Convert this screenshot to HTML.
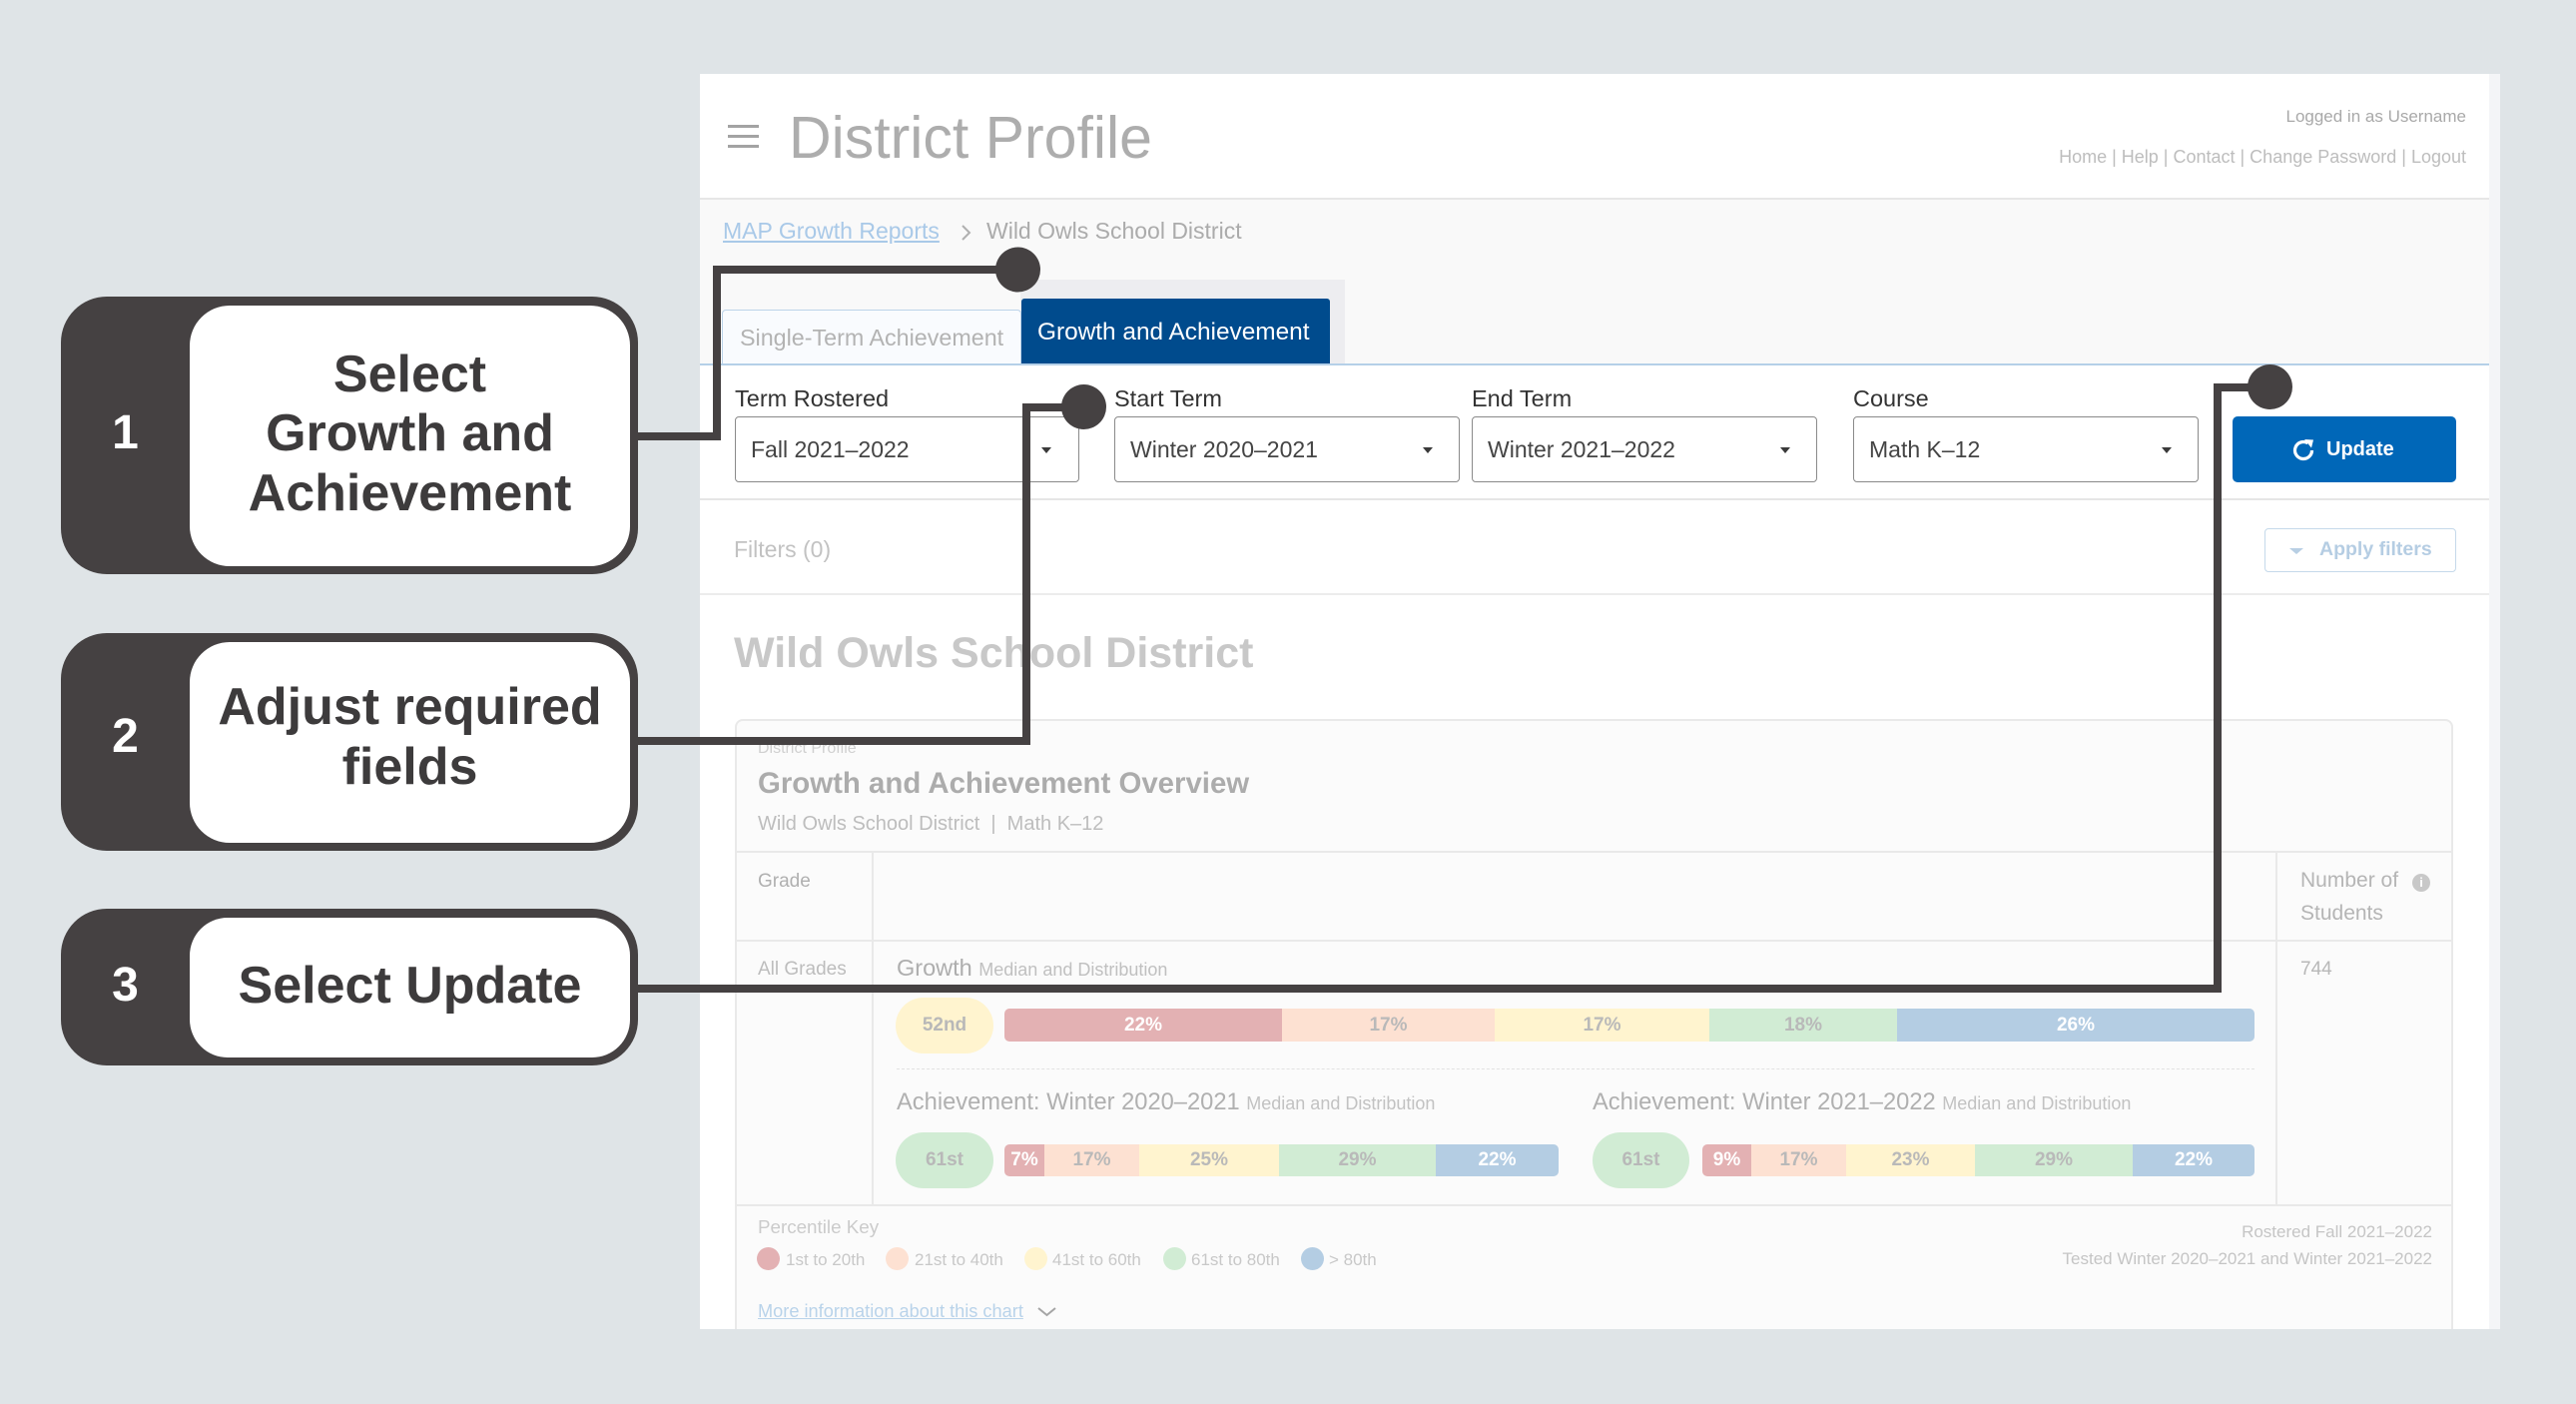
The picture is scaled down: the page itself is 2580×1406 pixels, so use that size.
<!DOCTYPE html>
<html>
<head>
<meta charset="utf-8">
<style>
*{margin:0;padding:0;box-sizing:border-box}
html,body{width:2580px;height:1406px;overflow:hidden;background:#dfe4e7}
body{position:relative;font-family:"Liberation Sans",sans-serif}
.a{position:absolute}
.t{position:absolute;line-height:1;white-space:nowrap}
.b{font-weight:bold}
.sel{position:absolute;top:417px;height:66px;border:1.5px solid #8a8a8a;border-radius:4px;background:#fff}
.tri{position:absolute;width:0;height:0;border-left:5px solid transparent;border-right:5px solid transparent;border-top:6px solid #3a3a3a}
.bar{position:absolute;display:flex;border-radius:5px;overflow:hidden;height:33px}
.bar div{height:100%;display:flex;align-items:center;justify-content:center;font-weight:bold;font-size:19px;color:#b9b9b9}
.bar .w{color:#fff}
.r{background:#e3b1b3}.p{background:#fde1d2}.y{background:#fff4cf}.g{background:#d1ecd4}.bl{background:#b4cde3}
.badge{position:absolute;width:98px;height:56px;border-radius:30px;display:flex;align-items:center;justify-content:center;font-weight:bold;font-size:19px;color:#b8b8b8}
.hl{position:absolute;height:2px;background:#e9e9e9}
.vl{position:absolute;width:2px;background:#e9e9e9}
.dot{position:absolute;width:23px;height:23px;border-radius:50%;top:1249px}
.co{position:absolute;left:61px;width:578px;background:#454142;border-radius:46px}
.ci{position:absolute;left:190px;width:441px;background:#fff;border-radius:40px}
.num{position:absolute;left:61px;width:129px;text-align:center;color:#fff;font-weight:bold;font-size:48px;line-height:1}
.ct{position:absolute;left:190px;width:441px;text-align:center;color:#3d3b3c;font-weight:bold;font-size:52px;line-height:1;white-space:nowrap}
</style>
</head>
<body>

<!-- Panel -->
<div class="a" style="left:701px;top:74px;width:1803px;height:1257px;background:#fff"></div>
<div class="a" style="left:2493px;top:74px;width:11px;height:1257px;background:#f4f5f7"></div>
<div class="a" style="left:701px;top:200px;width:1792px;height:165px;background:#f9f9f9"></div>
<div class="a" style="left:701px;top:198px;width:1792px;height:2px;background:#e6e6e6"></div>

<!-- Header -->
<div class="a" style="left:729px;top:125px;width:31px;height:3px;background:#a3a3a3"></div>
<div class="a" style="left:729px;top:135px;width:31px;height:3px;background:#a3a3a3"></div>
<div class="a" style="left:729px;top:145px;width:31px;height:3px;background:#a3a3a3"></div>
<div class="t" style="left:790px;top:109px;font-size:59px;color:#adadad">District Profile</div>
<div class="t" style="right:110px;top:107.6px;font-size:17px;color:#a9a9a9">Logged in as Username</div>
<div class="t" style="right:110px;top:147.8px;font-size:18px;color:#bdbdbd">Home | Help | Contact | Change Password | Logout</div>

<!-- Breadcrumb -->
<div class="t" style="left:724px;top:219.5px;font-size:23px;color:#a9c9e8;text-decoration:underline">MAP Growth Reports</div>
<svg class="a" style="left:960px;top:224px" width="16" height="18"><polyline points="4,2 11,9 4,16" fill="none" stroke="#b0b0b0" stroke-width="2"/></svg>
<div class="t" style="left:988px;top:219.5px;font-size:23px;color:#ababab">Wild Owls School District</div>

<!-- Tabs -->
<div class="a" style="left:1022px;top:280px;width:325px;height:85px;background:#ededf0"></div>
<div class="a" style="left:723px;top:310px;width:300px;height:56px;background:#f9fbfe;border:1.5px solid #bcd3e9;border-bottom:none;border-radius:4px 4px 0 0"></div>
<div class="t" style="left:741px;top:327.3px;font-size:23.3px;color:#b3b3b3">Single-Term Achievement</div>
<div class="a" style="left:1023px;top:299px;width:309px;height:66px;background:#004b8d;border-radius:3px 3px 0 0"></div>
<div class="t" style="left:1039px;top:321.4px;font-size:24.4px;color:#fff">Growth and Achievement</div>
<div class="a" style="left:701px;top:364px;width:1792px;height:2px;background:#b5d0e8"></div>

<!-- Form -->
<div class="t" style="left:736px;top:388.1px;font-size:23.5px;color:#333">Term Rostered</div>
<div class="t" style="left:1116px;top:388.1px;font-size:23.5px;color:#333">Start Term</div>
<div class="t" style="left:1474px;top:388.1px;font-size:23.5px;color:#333">End Term</div>
<div class="t" style="left:1856px;top:388.1px;font-size:23.5px;color:#333">Course</div>

<div class="sel" style="left:736px;width:345px"></div>
<div class="sel" style="left:1116px;width:346px"></div>
<div class="sel" style="left:1474px;width:346px"></div>
<div class="sel" style="left:1856px;width:346px"></div>
<div class="t" style="left:752px;top:438.5px;font-size:23px;color:#444">Fall 2021–2022</div>
<div class="t" style="left:1132px;top:438.5px;font-size:23px;color:#444">Winter 2020–2021</div>
<div class="t" style="left:1490px;top:438.5px;font-size:23px;color:#444">Winter 2021–2022</div>
<div class="t" style="left:1872px;top:438.5px;font-size:23px;color:#444">Math K–12</div>
<div class="tri" style="left:1043px;top:448px"></div>
<div class="tri" style="left:1425px;top:448px"></div>
<div class="tri" style="left:1783px;top:448px"></div>
<div class="tri" style="left:2165px;top:448px"></div>

<div class="a" style="left:2236px;top:417px;width:224px;height:66px;background:#0067b8;border-radius:5px"></div>
<svg class="a" style="left:2295px;top:439px" width="24" height="24">
<path d="M20.5 12 A8.5 8.5 0 1 1 16.5 4.8" fill="none" stroke="#fff" stroke-width="3.2"/>
<polygon points="13,1 22,1.5 20,9.5" fill="#fff"/>
</svg>
<div class="t b" style="left:2330px;top:440.1px;font-size:20px;color:#fff">Update</div>

<div class="a" style="left:701px;top:499px;width:1792px;height:2px;background:#e6e6e6"></div>
<div class="t" style="left:735px;top:538.5px;font-size:23px;color:#c2c2c2">Filters (0)</div>
<div class="a" style="left:2268px;top:529px;width:192px;height:44px;border:1.5px solid #c5d9ea;border-radius:4px;background:#fff"></div>
<div class="a" style="left:2293px;top:549px;width:0;height:0;border-left:7px solid transparent;border-right:7px solid transparent;border-top:6px solid #b8cfe4"></div>
<div class="t b" style="left:2323px;top:540.5px;font-size:19.5px;color:#b5cde3">Apply filters</div>
<div class="a" style="left:701px;top:594px;width:1792px;height:2px;background:#ececec"></div>

<div class="t b" style="left:735px;top:632.6px;font-size:43px;color:#c8c8c8">Wild Owls School District</div>

<!-- Card -->
<div class="a" style="left:736px;top:720px;width:1721px;height:611px;background:#fbfbfb;border:2px solid #e9e9e9;border-bottom:none;border-radius:8px 8px 0 0"></div>
<div class="t" style="left:759px;top:741.5px;font-size:16px;color:#d0d0d0">District Profile</div>
<div class="t b" style="left:759px;top:770px;font-size:29.4px;color:#acacac">Growth and Achievement Overview</div>
<div class="t" style="left:759px;top:815.1px;font-size:20px;color:#bdbdbd">Wild Owls School District &nbsp;|&nbsp; Math K–12</div>

<div class="hl" style="left:736px;top:852px;width:1721px"></div>
<div class="hl" style="left:736px;top:941px;width:1721px"></div>
<div class="hl" style="left:736px;top:1206px;width:1721px"></div>
<div class="vl" style="left:873px;top:853px;height:354px"></div>
<div class="vl" style="left:2279px;top:853px;height:354px"></div>

<div class="t" style="left:759px;top:872.9px;font-size:19px;color:#b0b0b0">Grade</div>
<div class="t" style="left:2304px;top:871.2px;font-size:21px;color:#b5b5b5">Number of</div>
<div class="a" style="left:2416px;top:875px;width:18px;height:18px;border-radius:50%;background:#c8c8c8;color:#fff;font-size:13px;font-weight:bold;line-height:18px;text-align:center">i</div>
<div class="t" style="left:2304px;top:904.2px;font-size:21px;color:#b5b5b5">Students</div>

<div class="t" style="left:759px;top:960.9px;font-size:19px;color:#bdbdbd">All Grades</div>
<div class="t" style="left:2304px;top:960.9px;font-size:19px;color:#b8b8b8">744</div>
<div class="t" style="left:898px;top:958.1px;font-size:23.5px;color:#aeaeae">Growth <span style="font-size:18px;color:#c0c0c0">Median and Distribution</span></div>

<div class="badge y" style="left:897px;top:999px">52nd</div>
<div class="bar" style="left:1006px;top:1010px;width:1252px">
<div class="r w" style="width:278px">22%</div>
<div class="p" style="width:213px">17%</div>
<div class="y" style="width:215px">17%</div>
<div class="g" style="width:188px">18%</div>
<div class="bl w" style="width:358px">26%</div>
</div>

<div class="a" style="left:898px;top:1070px;width:1360px;border-top:1.5px dashed #e2e2e2"></div>

<div class="t" style="left:898px;top:1092.9px;font-size:23.7px;color:#b0b0b0">Achievement: Winter 2020–2021 <span style="font-size:18px;color:#c2c2c2">Median and Distribution</span></div>
<div class="t" style="left:1595px;top:1092.9px;font-size:23.7px;color:#b0b0b0">Achievement: Winter 2021–2022 <span style="font-size:18px;color:#c2c2c2">Median and Distribution</span></div>

<div class="badge g" style="left:897px;top:1134px">61st</div>
<div class="bar" style="left:1006px;top:1146px;width:555px;height:32px">
<div class="r w" style="width:40px">7%</div>
<div class="p" style="width:95px">17%</div>
<div class="y" style="width:140px">25%</div>
<div class="g" style="width:157px">29%</div>
<div class="bl w" style="width:123px">22%</div>
</div>

<div class="badge g" style="left:1595px;top:1134px;width:97px">61st</div>
<div class="bar" style="left:1705px;top:1146px;width:553px;height:32px">
<div class="r w" style="width:49px">9%</div>
<div class="p" style="width:95px">17%</div>
<div class="y" style="width:129px">23%</div>
<div class="g" style="width:158px">29%</div>
<div class="bl w" style="width:122px">22%</div>
</div>

<!-- Footer -->
<div class="t" style="left:759px;top:1220.1px;font-size:18.8px;color:#cbcbcb">Percentile Key</div>
<div class="dot r" style="left:758px"></div>
<div class="t" style="left:787px;top:1252.6px;font-size:17px;color:#c8c8c8">1st to 20th</div>
<div class="dot p" style="left:887px"></div>
<div class="t" style="left:916px;top:1252.6px;font-size:17px;color:#c8c8c8">21st to 40th</div>
<div class="dot y" style="left:1026px"></div>
<div class="t" style="left:1054px;top:1252.6px;font-size:17px;color:#c8c8c8">41st to 60th</div>
<div class="dot g" style="left:1165px"></div>
<div class="t" style="left:1193px;top:1252.6px;font-size:17px;color:#c8c8c8">61st to 80th</div>
<div class="dot bl" style="left:1303px"></div>
<div class="t" style="left:1331px;top:1252.6px;font-size:17px;color:#c8c8c8">&gt; 80th</div>

<div class="t" style="right:144px;top:1224.6px;font-size:17px;color:#c5c5c5">Rostered Fall 2021–2022</div>
<div class="t" style="right:144px;top:1251.6px;font-size:17px;color:#c5c5c5">Tested Winter 2020–2021 and Winter 2021–2022</div>

<div class="t" style="left:759px;top:1303.6px;font-size:18.2px;color:#b9d3ea;text-decoration:underline">More information about this chart</div>
<svg class="a" style="left:1038px;top:1307px" width="22" height="14"><polyline points="2,3 10.5,10 19,3" fill="none" stroke="#a5a5a5" stroke-width="2"/></svg>

<!-- Callouts -->
<div class="co" style="top:297px;height:278px"></div>
<div class="ci" style="top:306px;height:261px"></div>
<div class="num" style="top:410.4px">1</div>
<div class="ct" style="top:349px">Select</div>
<div class="ct" style="top:408px">Growth and</div>
<div class="ct" style="top:468px">Achievement</div>

<div class="co" style="top:634px;height:218px"></div>
<div class="ci" style="top:643px;height:201px"></div>
<div class="num" style="top:714.4px">2</div>
<div class="ct" style="top:682px">Adjust required</div>
<div class="ct" style="top:742px">fields</div>

<div class="co" style="top:910px;height:157px"></div>
<div class="ci" style="top:919px;height:140px;border-radius:38px"></div>
<div class="num" style="top:963.4px">3</div>
<div class="ct" style="top:961px">Select Update</div>

<!-- Connectors -->
<svg class="a" style="left:0;top:0" width="2580" height="1406">
<g fill="none" stroke="#454142" stroke-width="8" stroke-linejoin="miter" stroke-linecap="butt">
<polyline points="634,437 718,437 718,270 1019,270"/>
<polyline points="634,742 1028,742 1028,408 1085,408"/>
<polyline points="634,990 2221,990 2221,388 2273,388"/>
</g>
<g fill="#454142">
<circle cx="1019.5" cy="270" r="22.5"/>
<circle cx="1085.5" cy="407.5" r="22.5"/>
<circle cx="2273.5" cy="387.5" r="22.5"/>
</g>
</svg>

</body>
</html>
